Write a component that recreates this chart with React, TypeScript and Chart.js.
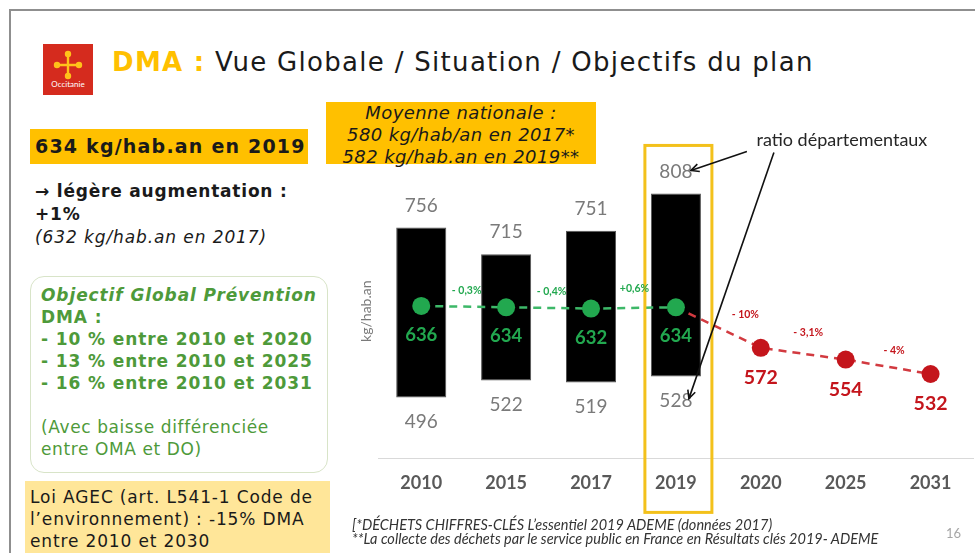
import React, { useEffect, useRef } from "react";
import { Chart, registerables } from "chart.js";

Chart.register(...registerables);

// ---------- data ----------
const years = ["2010", "2015", "2017", "2019", "2020", "2025", "2031"];
const ratioMin = [496, 522, 519, 528];
const ratioMax = [756, 715, 751, 808];
const actual = [636, 634, 632, 634];
const objectiveYears = ["2019", "2020", "2025", "2031"];
const objective = [634, 572, 554, 532];
const actualChanges = ["- 0,3%", "- 0,4%", "+0,6%"];
const objectiveChanges = ["- 10%", "- 3,1%", "- 4%"];
const highlightYear = "2019";
const annotationText = "ratio départementaux";

// ---------- style ----------
const GREEN = "#22A84F";
const GREEN_LINE = "#3DB868";
const RED = "#C4151C";
const RED_LINE = "#D23A40";
const GREY = "#7a7a7a";
const GOLD = "#FFC000";
const HIGHLIGHT = "#F3C11B";
const objectiveShift = [
  [27, -13],
  [5, -21],
  [6, -16],
];
const actualShift = [
  [3, -16],
  [3, -16],
  [1, -19],
];

const annotate = {
  id: "annotate",
  afterDatasetsDraw(chart: any) {
    const ctx = chart.ctx as CanvasRenderingContext2D;
    const xs = chart.scales.x;
    const ys = chart.scales.y;
    const area = chart.chartArea;
    ctx.save();

    // highlight frame around 2019
    const hi = years.indexOf(highlightYear);
    const hx = xs.getPixelForValue(hi);
    const hiMax = ratioMax[hi];
    const boxTop = ys.getPixelForValue(hiMax) - 48;
    ctx.strokeStyle = HIGHLIGHT;
    ctx.lineWidth = 3;
    ctx.strokeRect(hx - 31, boxTop, 67, area.bottom + 54 - boxTop);

    // ratio labels
    ctx.textAlign = "center";
    ctx.textBaseline = "middle";
    ctx.fillStyle = GREY;
    ctx.font = "19px Lato";
    ratioMax.forEach((v, i) => {
      const x = xs.getPixelForValue(i);
      ctx.fillText(String(v), x, ys.getPixelForValue(v) - 22);
      ctx.fillText(String(ratioMin[i]), x, ys.getPixelForValue(ratioMin[i]) + 24);
    });

    // actual labels
    ctx.fillStyle = GREEN;
    ctx.font = "bold 18.5px Lato";
    actual.forEach((v, i) => {
      ctx.fillText(String(v), xs.getPixelForValue(i), ys.getPixelForValue(v) + 29);
    });
    // objective labels (skip starting point)
    ctx.fillStyle = RED;
    ctx.font = "bold 19.5px Lato";
    objective.forEach((v, i) => {
      if (i === 0) return;
      const idx = years.indexOf(objectiveYears[i]);
      ctx.fillText(String(v), xs.getPixelForValue(idx), ys.getPixelForValue(v) + 30);
    });

    // change labels
    ctx.font = "bold 10.5px Lato";
    ctx.fillStyle = GREEN;
    actualChanges.forEach((t, i) => {
      const x = (xs.getPixelForValue(i) + xs.getPixelForValue(i + 1)) / 2;
      const y = (ys.getPixelForValue(actual[i]) + ys.getPixelForValue(actual[i + 1])) / 2;
      ctx.fillText(t, x + actualShift[i][0], y + actualShift[i][1]);
    });
    ctx.fillStyle = RED;
    objectiveChanges.forEach((t, i) => {
      const a = years.indexOf(objectiveYears[i]);
      const b = years.indexOf(objectiveYears[i + 1]);
      const x = (xs.getPixelForValue(a) + xs.getPixelForValue(b)) / 2;
      const y = (ys.getPixelForValue(objective[i]) + ys.getPixelForValue(objective[i + 1])) / 2;
      ctx.fillText(t, x + objectiveShift[i][0], y + objectiveShift[i][1]);
    });

    // annotation text + arrows
    const yTopLabel = ys.getPixelForValue(hiMax) - 22;
    const yBotLabel = ys.getPixelForValue(ratioMin[hi]) + 24;
    ctx.fillStyle = "#262626";
    ctx.font = "18px Lato";
    ctx.fillText(annotationText, hx + 166, yTopLabel - 31);

    const arrow = (x1: number, y1: number, x2: number, y2: number) => {
      ctx.strokeStyle = "#111";
      ctx.lineWidth = 1.6;
      ctx.beginPath();
      ctx.moveTo(x1, y1);
      ctx.lineTo(x2, y2);
      ctx.stroke();
      const ang = Math.atan2(y2 - y1, x2 - x1);
      const L = 9;
      ctx.beginPath();
      ctx.moveTo(x2 - L * Math.cos(ang - 0.45), y2 - L * Math.sin(ang - 0.45));
      ctx.lineTo(x2, y2);
      ctx.lineTo(x2 - L * Math.cos(ang + 0.45), y2 - L * Math.sin(ang + 0.45));
      ctx.stroke();
    };
    arrow(hx + 71, yTopLabel - 20, hx + 15, yTopLabel - 1);
    arrow(hx + 98, yTopLabel - 19, hx + 13, yBotLabel - 2);

    ctx.restore();
  },
};

function ChartBlock() {
  const ref = useRef<HTMLCanvasElement | null>(null);
  useEffect(() => {
    if (!ref.current) return;
    const barData = years.map((_, i) => (i < ratioMin.length ? [ratioMin[i], ratioMax[i]] : null));
    const actualData = years.map((_, i) => (i < actual.length ? actual[i] : null));
    const objectiveData = years.map((y) => {
      const k = objectiveYears.indexOf(y);
      return k >= 0 ? objective[k] : null;
    });
    const objectiveRadius = years.map((y) => (objectiveYears.indexOf(y) > 0 ? 9 : 0));
    const chart = new Chart(ref.current, {
      type: "bar",
      data: {
        labels: years,
        datasets: [
          {
            type: "bar",
            label: "ratio départementaux",
            data: barData as any,
            backgroundColor: "#000",
            borderColor: "#555",
            borderWidth: 1,
            borderSkipped: false,
            barPercentage: 0.59,
            categoryPercentage: 1,
            order: 3,
          },
          {
            type: "line",
            label: "objectif",
            data: objectiveData as any,
            borderColor: RED_LINE,
            borderWidth: 2.5,
            borderDash: [8, 6],
            pointRadius: objectiveRadius,
            pointBackgroundColor: RED,
            pointBorderColor: RED,
            pointBorderWidth: 0,
            spanGaps: false,
            order: 2,
          },
          {
            type: "line",
            label: "DMA",
            data: actualData as any,
            borderColor: GREEN_LINE,
            borderWidth: 2.5,
            borderDash: [8, 6],
            pointRadius: 9,
            pointBackgroundColor: GREEN,
            pointBorderColor: GREEN,
            pointBorderWidth: 0,
            order: 1,
          },
        ],
      },
      options: {
        responsive: false,
        animation: false,
        layout: { padding: { left: 14, right: 3, top: 34, bottom: 45 } },
        plugins: { legend: { display: false }, tooltip: { enabled: false } },
        scales: {
          x: {
            offset: true,
            grid: { display: false, drawTicks: false },
            border: { display: true, color: "#d9d9d9", width: 1 },
            ticks: { color: "#595959", font: { family: "Lato", size: 18, weight: "bold" }, padding: 14 },
          },
          y: {
            min: 403,
            max: 853,
            grid: { display: false, drawTicks: false },
            border: { display: false },
            ticks: { display: false },
            title: { display: true, text: "kg/hab.an", color: "#7a7a7a", font: { family: "Lato", size: 14 } },
          },
        },
      },
      plugins: [annotate],
    });
    return () => chart.destroy();
  }, []);
  return (
    <canvas
      ref={ref}
      width={642}
      height={423}
      style={{ position: "absolute", left: 340, top: 130, width: 642, height: 423 }}
    />
  );
}

const verdana = "'DejaVu Sans', Verdana, sans-serif";

export default function App() {
  return (
    <div
      style={{
        position: "fixed",
        left: 0,
        top: 0,
        width: 975,
        height: 553,
        overflow: "hidden",
        background: "#fff",
        fontFamily: verdana,
        color: "#1a1a1a",
      }}
    >
      <div
        style={{
          position: "absolute",
          left: 9,
          top: 9,
          width: 1000,
          height: 600,
          borderTop: "2px solid #8f8f8f",
          borderLeft: "2px solid #8f8f8f",
        }}
      />
      {/* logo */}
      <div style={{ position: "absolute", left: 43, top: 44, width: 50, height: 51, background: "#D52B1E" }}>
        <svg width="50" height="51" viewBox="0 0 50 51">
          <g fill="none" stroke="#FFC21A" strokeWidth="2.4" strokeLinecap="round">
            <path d="M25 10 L25 32 M14 21 L36 21" />
            <circle cx="25" cy="10" r="2" />
            <circle cx="25" cy="32" r="2" />
            <circle cx="14" cy="21" r="2" />
            <circle cx="36" cy="21" r="2" />
          </g>
          <text x="25" y="43" fill="#fff" fontSize="8" textAnchor="middle" fontFamily="Lato">Occitanie</text>
        </svg>
      </div>
      {/* title */}
      <div
        style={{
          position: "absolute",
          left: 112,
          top: 46,
          fontSize: 26,
          letterSpacing: 1.3,
          lineHeight: "32px",
          whiteSpace: "nowrap",
        }}
      >
        <span style={{ color: GOLD, fontWeight: "bold" }}>DMA :</span> Vue Globale / Situation / Objectifs du plan
      </div>
      {/* 634 box */}
      <div
        style={{
          position: "absolute",
          left: 30,
          top: 129,
          width: 278,
          height: 35,
          background: GOLD,
          fontSize: 19,
          letterSpacing: 1.2,
          fontWeight: "bold",
          lineHeight: "35px",
          paddingLeft: 5,
          boxSizing: "border-box",
          whiteSpace: "nowrap",
        }}
      >
        634 kg/hab.an en 2019
      </div>
      {/* moyenne box */}
      <div
        style={{
          position: "absolute",
          left: 326,
          top: 102,
          width: 270,
          height: 62,
          background: GOLD,
          fontSize: 18,
          letterSpacing: 0.4,
          fontStyle: "italic",
          lineHeight: "22px",
          textAlign: "center",
          paddingTop: 0,
          whiteSpace: "nowrap",
        }}
      >
        Moyenne nationale :<br />
        580 kg/hab/an en 2017*
        <br />
        582 kg/hab.an en 2019**
      </div>
      {/* augmentation */}
      <div
        style={{
          position: "absolute",
          left: 35,
          top: 180,
          fontSize: 17,
          letterSpacing: 0.8,
          lineHeight: "23px",
          whiteSpace: "nowrap",
        }}
      >
        <div style={{ fontWeight: "bold" }}>→ légère augmentation :</div>
        <div style={{ fontWeight: "bold" }}>+1%</div>
        <div style={{ fontStyle: "italic", letterSpacing: 0.9 }}>(632 kg/hab.an en 2017)</div>
      </div>
      {/* objectif box */}
      <div
        style={{
          position: "absolute",
          left: 30,
          top: 276,
          width: 298,
          height: 197,
          border: "1.5px solid #d8e4c8",
          borderRadius: 14,
          boxSizing: "border-box",
        }}
      />
      <div
        style={{
          position: "absolute",
          left: 41,
          top: 284,
          fontSize: 17,
          lineHeight: "22px",
          color: "#4E9A3A",
          whiteSpace: "nowrap",
          letterSpacing: 0.9,
        }}
      >
        <div style={{ fontWeight: "bold", fontStyle: "italic" }}>Objectif Global Prévention</div>
        <div style={{ fontWeight: "bold" }}>DMA :</div>
        <div style={{ fontWeight: "bold" }}>- 10 % entre 2010 et 2020</div>
        <div style={{ fontWeight: "bold" }}>- 13 % entre 2010 et 2025</div>
        <div style={{ fontWeight: "bold" }}>- 16 % entre 2010 et 2031</div>
        <div style={{ height: 22 }} />
        <div style={{ letterSpacing: 0.6 }}>(Avec baisse différenciée</div>
        <div style={{ letterSpacing: 0.6 }}>entre OMA et DO)</div>
      </div>
      {/* loi AGEC */}
      <div
        style={{
          position: "absolute",
          left: 25,
          top: 481,
          width: 305,
          height: 80,
          background: "#FFE699",
          fontSize: 17,
          letterSpacing: 0.85,
          lineHeight: "22px",
          paddingLeft: 5,
          paddingTop: 5,
          boxSizing: "border-box",
          whiteSpace: "nowrap",
        }}
      >
        Loi AGEC (art. L541-1 Code de
        <br />
        l’environnement) : -15% DMA
        <br />
        entre 2010 et 2030
      </div>
      <ChartBlock />
      {/* footnote */}
      <div
        style={{
          position: "absolute",
          left: 352,
          top: 518,
          fontFamily: "Lato",
          fontStyle: "italic",
          fontSize: 14.5,
          lineHeight: "14px",
          color: "#333",
          whiteSpace: "nowrap",
        }}
      >
        [*DÉCHETS CHIFFRES-CLÉS L’essentiel 2019 ADEME (données 2017)
        <br />
        **La collecte des déchets par le service public en France en Résultats clés 2019- ADEME
      </div>
      <div style={{ position: "absolute", left: 946, top: 525, fontFamily: "Lato", fontSize: 13, color: "#a6a6a6" }}>16</div>
    </div>
  );
}
